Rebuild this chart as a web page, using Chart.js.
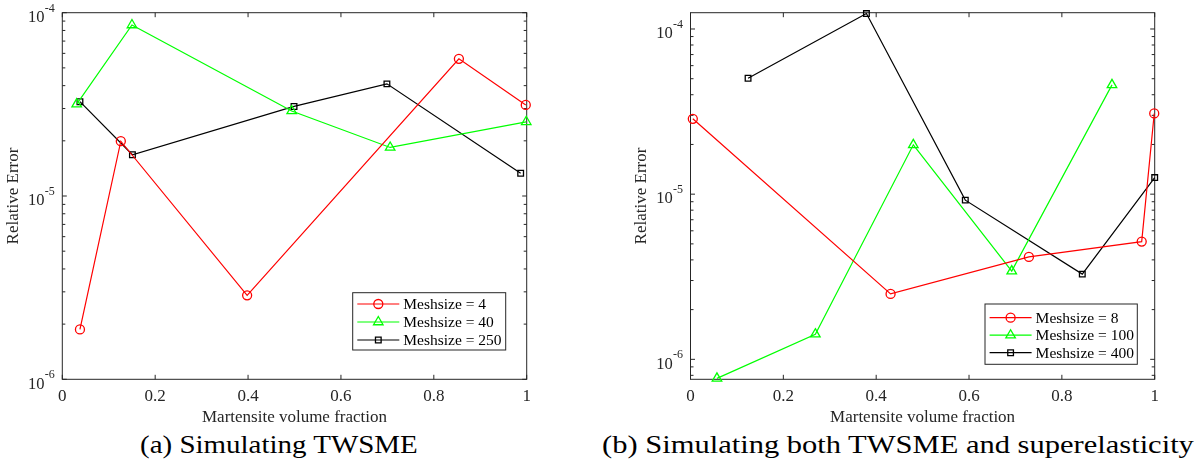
<!DOCTYPE html>
<html>
<head>
<meta charset="utf-8">
<script src="https://cdn.jsdelivr.net/npm/chart.js@4.4.1/dist/chart.umd.min.js"></script>
<style>
  body { margin: 0; background: #fff; width: 1196px; height: 475px; overflow: hidden; position: relative; }
  canvas { position: absolute; top: 0; }
  #chartA { left: 0; }
  #chartB { left: 598px; }
  .cap { position: absolute; top: 431px; line-height: 28px; font-family: 'Liberation Serif', serif; font-size: 25px; color: #000; white-space: nowrap; transform-origin: 0 50%; }
  #capA { left: 140px; }
  #capB { left: 602px; }
</style>
</head>
<body>
<canvas id="chartA" width="598" height="430"></canvas>
<canvas id="chartB" width="598" height="430"></canvas>
<div class="cap" id="capA">(a) Simulating TWSME</div>
<div class="cap" id="capB">(b) Simulating both TWSME and superelasticity</div>
<script>
// tick values
const xTicks = [0, 0.2, 0.4, 0.6, 0.8, 1];
const yDecadesA = [1e-6, 1e-5, 1e-4];
const yDecadesB = [1e-6, 1e-5, 1e-4];

// (a) Simulating TWSME
const labelsA = ['Meshsize = 4', 'Meshsize = 40', 'Meshsize = 250'];
const mesh4X = [0.038, 0.126, 0.398, 0.854, 0.998];
const mesh4Y = [1.87e-6, 1.99e-5, 2.87e-6, 5.6e-5, 3.14e-5];
const mesh40X = [0.031, 0.150, 0.494, 0.706, 0.999];
const mesh40Y = [3.17e-5, 8.57e-5, 2.91e-5, 1.84e-5, 2.54e-5];
const mesh250X = [0.038, 0.151, 0.499, 0.699, 0.987];
const mesh250Y = [3.27e-5, 1.68e-5, 3.08e-5, 4.09e-5, 1.33e-5];

// (b) Simulating both TWSME and superelasticity
const labelsB = ['Meshsize = 8', 'Meshsize = 100', 'Meshsize = 400'];
const mesh8X = [0.005, 0.431, 0.729, 0.972, 0.999];
const mesh8Y = [2.86e-5, 2.49e-6, 4.17e-6, 5.16e-6, 3.08e-5];
const mesh100X = [0.057, 0.269, 0.480, 0.692, 0.908];
const mesh100Y = [7.67e-7, 1.42e-6, 1.99e-5, 3.42e-6, 4.59e-5];
const mesh400X = [0.124, 0.379, 0.592, 0.844, 1.0];
const mesh400Y = [5.03e-5, 1.24e-4, 9.2e-6, 3.28e-6, 1.26e-5];

const axisColor = '#262626';
const serif = "'Liberation Serif', 'Times New Roman', serif";
const colors = ['#ff0000', '#00ff00', '#000000'];
const styles = ['circle', 'triangle', 'rect'];
const radii = [4.5, 5.5, 4];

// captions are typeset wide (computer modern), stretch to the measured widths
[['capA', 278], ['capB', 592]].forEach(([id, w]) => {
  const el = document.getElementById(id);
  el.style.transform = 'scaleX(' + (w / el.offsetWidth) + ')';
});

function series(label, xs, ys, i) {
  return {
    label: label,
    data: xs.map((x, k) => ({x: x, y: ys[k]})),
    borderColor: colors[i],
    borderWidth: 1.2,
    pointStyle: styles[i],
    pointRadius: radii[i],
    pointBorderColor: colors[i],
    pointBackgroundColor: 'rgba(0,0,0,0)',
    pointBorderWidth: 1.3,
    fill: false,
    tension: 0,
    clip: false
  };
}

function marker(ctx, style, r, x, y) {
  ctx.beginPath();
  if (style === 'circle') {
    ctx.arc(x, y, r, 0, Math.PI * 2);
  } else if (style === 'triangle') {
    ctx.moveTo(x, y - r);
    ctx.lineTo(x + r * Math.sin(Math.PI * 2 / 3), y - r * Math.cos(Math.PI * 2 / 3));
    ctx.lineTo(x - r * Math.sin(Math.PI * 2 / 3), y - r * Math.cos(Math.PI * 2 / 3));
    ctx.closePath();
  } else {
    const s = r * Math.SQRT1_2;
    ctx.rect(x - s, y - s, 2 * s, 2 * s);
  }
  ctx.stroke();
}

// matlab style box, inward ticks and 10^n labels
const boxPlugin = {
  id: 'mbox',
  beforeDatasetsDraw(chart, args, o) {
    const {ctx, chartArea: a} = chart;
    const xs = chart.scales.x, ys = chart.scales.y;
    ctx.save();
    ctx.strokeStyle = axisColor;
    ctx.lineWidth = 1;
    ctx.beginPath();
    xTicks.forEach(v => {
      const px = xs.getPixelForValue(v);
      ctx.moveTo(px, a.bottom); ctx.lineTo(px, a.bottom - 4.5);
      ctx.moveTo(px, a.top); ctx.lineTo(px, a.top + 4.5);
    });
    const lo = ys.min, hi = ys.max;
    for (let e = Math.floor(Math.log10(lo)); e <= Math.ceil(Math.log10(hi)); e++) {
      for (let m = 1; m <= 9; m++) {
        const v = m * Math.pow(10, e);
        if (v < lo || v > hi) continue;
        const len = m === 1 ? 4.5 : 3;
        const py = ys.getPixelForValue(v);
        ctx.moveTo(a.left, py); ctx.lineTo(a.left + len, py);
        ctx.moveTo(a.right, py); ctx.lineTo(a.right - len, py);
      }
    }
    ctx.stroke();
    ctx.strokeRect(a.left, a.top, a.right - a.left, a.bottom - a.top);

    // y labels as 10 with raised exponent
    ctx.fillStyle = axisColor;
    ctx.textBaseline = 'middle';
    o.decades.forEach(v => {
      const py = ys.getPixelForValue(v);
      const ex = String(Math.round(Math.log10(v)));
      ctx.font = '12px ' + serif;
      ctx.textAlign = 'left';
      const w = ctx.measureText(ex).width;
      const sx = a.left - 7.5 - w;
      ctx.fillText(ex, sx, py - 4.3);
      ctx.font = '16.5px ' + serif;
      ctx.textAlign = 'right';
      ctx.fillText('10', sx - 0.3, py + 5);
    });
    ctx.restore();
  }
};

// legend box inside the axes, lower right
const legendPlugin = {
  id: 'mlegend',
  afterDatasetsDraw(chart, args, o) {
    const {ctx, chartArea: a} = chart;
    const bx = a.right - o.rightGap - o.w;
    const by = a.bottom - o.bottomGap - o.h;
    ctx.save();
    ctx.fillStyle = '#fff';
    ctx.fillRect(bx, by, o.w, o.h);
    ctx.strokeStyle = axisColor;
    ctx.lineWidth = 1;
    ctx.strokeRect(bx, by, o.w, o.h);
    ctx.font = '15.5px ' + serif;
    ctx.textBaseline = 'middle';
    chart.data.datasets.forEach((ds, i) => {
      const y = by + o.first + i * o.step;
      ctx.strokeStyle = ds.borderColor;
      ctx.lineWidth = 1.2;
      ctx.beginPath();
      ctx.moveTo(bx + 4.6, y); ctx.lineTo(bx + 46.6, y);
      ctx.stroke();
      ctx.lineWidth = 1.3;
      marker(ctx, ds.pointStyle, ds.pointRadius, bx + 25.6, y);
      ctx.fillStyle = '#000';
      ctx.fillText(ds.label, bx + 50.6, y + 1);
    });
    ctx.restore();
  }
};

function makeChart(id, datasets, yMin, yMax, decades, padLeft, padRight, legendOpts) {
  return new Chart(document.getElementById(id), {
    type: 'line',
    data: {datasets: datasets},
    options: {
      responsive: false,
      animation: false,
      layout: {padding: {left: padLeft, top: 12.7, right: padRight, bottom: 0}},
      plugins: {
        legend: {display: false},
        tooltip: {enabled: false},
        mlegend: legendOpts,
        mbox: {decades: decades}
      },
      scales: {
        x: {
          type: 'linear',
          min: 0, max: 1,
          afterFit: s => { s.height = 50.7; },
          afterBuildTicks: s => { s.ticks = xTicks.map(v => ({value: v})); },
          grid: {display: false, drawTicks: false},
          border: {display: false},
          ticks: {
            padding: 7,
            color: axisColor,
            font: {family: serif, size: 17},
            callback: v => String(v)
          },
          title: {
            display: true,
            text: 'Martensite volume fraction',
            color: axisColor,
            font: {family: serif, size: 17},
            padding: {top: 0, bottom: 2}
          }
        },
        y: {
          type: 'logarithmic',
          min: yMin, max: yMax,
          afterFit: s => { s.width = 62.3; },
          afterBuildTicks: s => { s.ticks = decades.map(v => ({value: v})); },
          grid: {display: false, drawTicks: false},
          border: {display: false},
          ticks: {display: false},
          title: {
            display: true,
            text: 'Relative Error',
            color: axisColor,
            font: {family: serif, size: 17},
            padding: {top: 3.2, bottom: 0}
          }
        }
      }
    },
    plugins: [boxPlugin, legendPlugin]
  });
}

makeChart('chartA', [
  series(labelsA[0], mesh4X, mesh4Y, 0),
  series(labelsA[1], mesh40X, mesh40Y, 1),
  series(labelsA[2], mesh250X, mesh250Y, 2)
], 1e-6, 1e-4, yDecadesA, 0, 71.3,
  {w: 153, h: 57.3, rightGap: 21, bottomGap: 29.3, first: 11.3, step: 18});

makeChart('chartB', [
  series(labelsB[0], mesh8X, mesh8Y, 0),
  series(labelsB[1], mesh100X, mesh100Y, 1),
  series(labelsB[2], mesh400X, mesh400Y, 2)
], 7.57e-7, 1.255e-4, yDecadesB, 30.2, 41.3,
  {w: 152.3, h: 60.3, rightGap: 17.4, bottomGap: 15, first: 13.7, step: 17.5});
</script>
</body>
</html>
